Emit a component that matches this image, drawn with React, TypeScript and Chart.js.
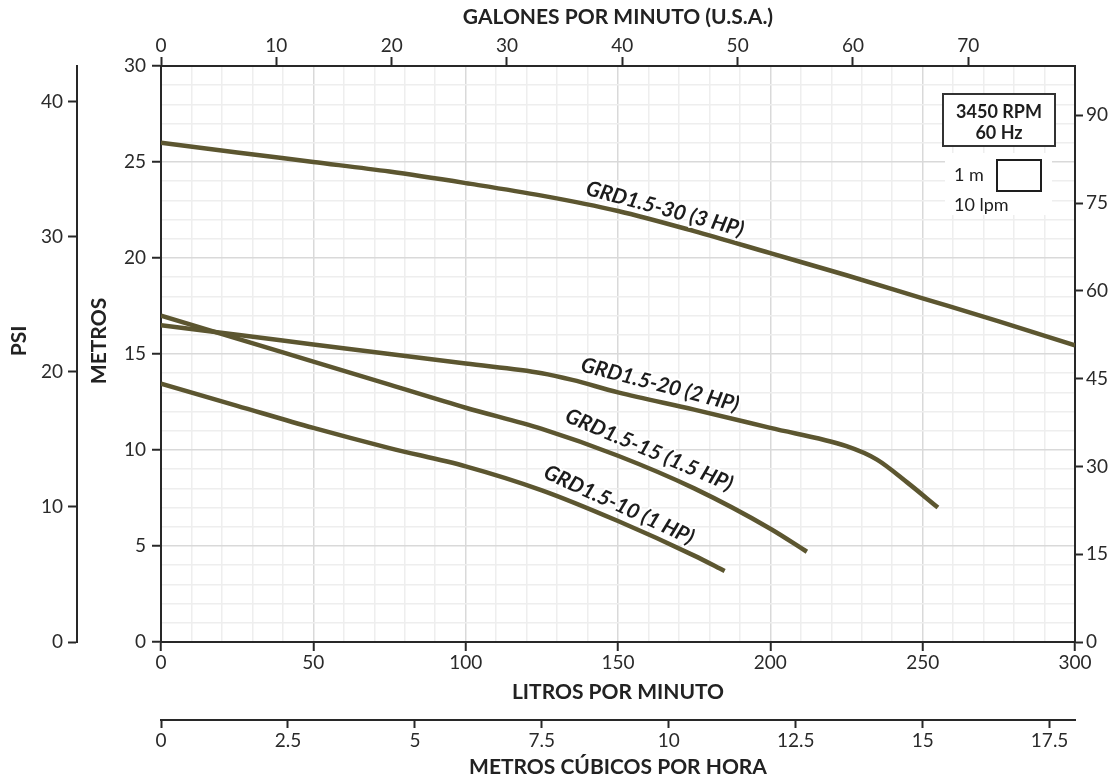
import React, { useEffect, useRef } from "react";
import { Chart, registerables } from "chart.js";

Chart.register(...registerables);

const FONT = "Lato, 'Open Sans', sans-serif";
const CURVE_COLOR = "#5c5630";
const AXIS_COLOR = "#282828";
const TEXT_COLOR = "#2a2a2a";

// Flow in litres per minute, head in metres
const lpm30 = [0, 25, 50, 75, 100, 125, 150, 175, 200, 225, 250, 275, 300];
const m30 = [26.0, 25.5, 25.0, 24.5, 23.9, 23.25, 22.45, 21.4, 20.25, 19.1, 17.9, 16.7, 15.45];

const lpm20 = [0, 25, 50, 75, 100, 125, 135, 150, 175, 200, 225, 235, 245, 255];
const m20 = [16.5, 16.0, 15.5, 15.0, 14.5, 14.0, 13.65, 13.0, 12.1, 11.15, 10.2, 9.5, 8.3, 7.0];

const lpm15 = [0, 25, 50, 75, 100, 125, 150, 175, 200, 212];
const m15 = [17.0, 15.8, 14.6, 13.4, 12.2, 11.1, 9.7, 8.0, 5.9, 4.7];

const lpm10 = [0, 25, 50, 75, 100, 125, 150, 175, 185];
const m10 = [13.45, 12.3, 11.15, 10.1, 9.15, 7.9, 6.3, 4.5, 3.7];

const seriesNames = ["GRD1.5-30 (3 HP)", "GRD1.5-20 (2 HP)", "GRD1.5-15 (1.5 HP)", "GRD1.5-10 (1 HP)"];

// Axis ranges / units
const LPM_MAX = 300;
const M_MAX = 30;
const GPM_MAX = LPM_MAX / 3.78541;
const FT_MAX = M_MAX * 3.28084;
const PSI_MAX = M_MAX * 1.42197;
const M3H_MAX = LPM_MAX * 0.06;

const axisTitles = {
  gpm: "GALONES POR MINUTO (U.S.A.)",
  lpm: "LITROS POR MINUTO",
  m3h: "METROS CÚBICOS POR HORA",
  m: "METROS",
  psi: "PSI",
};
const boxLines = ["3450 RPM", "60 Hz"];
const scaleLines = ["1 m", "10 lpm"];

// label anchors in data units (lpm, m) and angle in degrees
const labelAnchors = [
  { lpm: 165.4, m: 22.55, angle: 15 },
  { lpm: 163.8, m: 13.4, angle: 14.5 },
  { lpm: 160.2, m: 10.0, angle: 23 },
  { lpm: 150.3, m: 7.14, angle: 24.5 },
];

const toPoints = (xs: number[], ys: number[]) => xs.map((x, i) => ({ x, y: ys[i] }));

const annotationPlugin = {
  id: "annotationPlugin",
  beforeDatasetsDraw(chart: any) {
    const { ctx, chartArea } = chart;
    const r = chartArea.right;
    const t = chartArea.top;
    ctx.save();
    // white patch for scale box
    ctx.fillStyle = "#ffffff";
    ctx.fillRect(r - 130, t + 87, 107, 62);
    // RPM box
    ctx.fillRect(r - 132, t + 28, 112, 52);
    ctx.strokeStyle = "#333333";
    ctx.lineWidth = 2;
    ctx.strokeRect(r - 132, t + 28, 112, 52);
    ctx.fillStyle = "#1e1e1e";
    ctx.font = `bold 18px ${FONT}`;
    ctx.textAlign = "center";
    ctx.textBaseline = "middle";
    ctx.fillText(boxLines[0], r - 76, t + 46);
    ctx.fillText(boxLines[1], r - 76, t + 67);
    // scale indicator
    ctx.font = `18px ${FONT}`;
    ctx.textAlign = "left";
    ctx.fillText(scaleLines[0], r - 121, t + 109);
    ctx.fillText(scaleLines[1], r - 121, t + 139);
    ctx.lineWidth = 2;
    ctx.strokeStyle = "#1e1e1e";
    ctx.strokeRect(r - 78, t + 94, 44, 31);
    ctx.restore();
  },
  afterDatasetsDraw(chart: any) {
    const { ctx, scales } = chart;
    ctx.save();
    ctx.font = `italic bold 21px ${FONT}`;
    ctx.textAlign = "center";
    ctx.textBaseline = "middle";
    labelAnchors.forEach((a, i) => {
      const px = scales.x.getPixelForValue(a.lpm);
      const py = scales.y.getPixelForValue(a.m);
      ctx.save();
      ctx.translate(px, py);
      ctx.rotate((a.angle * Math.PI) / 180);
      ctx.lineWidth = 4;
      ctx.strokeStyle = "#ffffff";
      ctx.lineJoin = "round";
      ctx.strokeText(seriesNames[i], 0, 0);
      ctx.fillStyle = "#1c1c1c";
      ctx.fillText(seriesNames[i], 0, 0);
      ctx.restore();
    });
    ctx.restore();
  },
  afterDraw(chart: any) {
    const { ctx, chartArea } = chart;
    ctx.save();
    ctx.fillStyle = "#222222";
    ctx.font = `bold 21px ${FONT}`;
    ctx.textAlign = "center";
    ctx.textBaseline = "middle";
    const yMid = (chartArea.top + chartArea.bottom) / 2 - 13;
    ctx.save();
    ctx.translate(chartArea.left - 62, yMid);
    ctx.rotate(-Math.PI / 2);
    ctx.fillText(axisTitles.m, 0, 0);
    ctx.restore();
    ctx.save();
    ctx.translate(19, yMid);
    ctx.rotate(-Math.PI / 2);
    ctx.fillText(axisTitles.psi, 0, 0);
    ctx.restore();
    ctx.restore();
  },
};

const tickFont = { family: FONT, size: 19 };
const titleFont = { family: FONT, size: 21, weight: "bold" as const };

export default function App() {
  const canvasRef = useRef<HTMLCanvasElement | null>(null);

  useEffect(() => {
    if (!canvasRef.current) return;
    const lineDs = (label: string, xs: number[], ys: number[]) => ({
      label,
      data: toPoints(xs, ys),
      borderColor: CURVE_COLOR,
      backgroundColor: CURVE_COLOR,
      borderWidth: 4.5,
      pointRadius: 0,
      fill: false,
      cubicInterpolationMode: "monotone" as const,
      xAxisID: "x",
      yAxisID: "y",
    });
    const chart = new Chart(canvasRef.current, {
      type: "line",
      data: {
        datasets: [
          lineDs(seriesNames[0], lpm30, m30),
          lineDs(seriesNames[1], lpm20, m20),
          lineDs(seriesNames[2], lpm15, m15),
          lineDs(seriesNames[3], lpm10, m10),
        ],
      },
      options: {
        responsive: false,
        animation: false,
        events: [],
        layout: { padding: 0 },
        plugins: { legend: { display: false }, tooltip: { enabled: false } },
        scales: {
          x: {
            type: "linear",
            position: "bottom",
            weight: 0,
            min: 0,
            max: LPM_MAX,
            ticks: {
              stepSize: 10,
              autoSkip: false,
              maxRotation: 0,
              includeBounds: false,
              padding: 0,
              font: tickFont,
              color: TEXT_COLOR,
              callback: (v: any) => (Number(v) % 50 === 0 ? String(v) : ""),
            },
            grid: {
              color: (c: any) => (c.tick && c.tick.value % 50 === 0 ? "#d9d9d9" : "#eeeeee"),
              lineWidth: 1.5,
              tickLength: 9,
              tickWidth: 2,
              tickColor: (c: any) => (c.tick && c.tick.value % 50 === 0 ? AXIS_COLOR : "rgba(0,0,0,0)"),
            },
            border: { color: AXIS_COLOR, width: 2 },
            title: {
              display: true,
              text: axisTitles.lpm,
              font: titleFont,
              color: "#222222",
              padding: { top: 0, bottom: 15 },
            },
            afterFit: (s: any) => {
              s.height = 78;
            },
          },
          m3h: {
            type: "linear",
            position: "bottom",
            weight: 1,
            min: 0,
            max: M3H_MAX,
            ticks: {
              stepSize: 2.5,
              autoSkip: false,
              maxRotation: 0,
              includeBounds: false,
              padding: 1,
              font: tickFont,
              color: TEXT_COLOR,
            },
            grid: { drawOnChartArea: false, tickLength: 8, tickWidth: 2, tickColor: AXIS_COLOR },
            border: { color: AXIS_COLOR, width: 2 },
            title: {
              display: true,
              text: axisTitles.m3h,
              font: titleFont,
              color: "#222222",
              padding: { top: 0, bottom: 2 },
            },
            afterFit: (s: any) => {
              s.height = 62;
            },
          },
          gpm: {
            type: "linear",
            position: "top",
            min: 0,
            max: GPM_MAX,
            ticks: {
              stepSize: 10,
              autoSkip: false,
              maxRotation: 0,
              includeBounds: false,
              padding: 0,
              font: tickFont,
              color: TEXT_COLOR,
            },
            grid: { drawOnChartArea: false, tickLength: 9, tickWidth: 2, tickColor: AXIS_COLOR },
            border: { color: AXIS_COLOR, width: 2 },
            title: {
              display: true,
              text: axisTitles.gpm,
              font: titleFont,
              color: "#222222",
              padding: { top: 5, bottom: 0 },
            },
            afterFit: (s: any) => {
              s.height = 66;
            },
          },
          y: {
            type: "linear",
            position: "left",
            weight: 0,
            min: 0,
            max: M_MAX,
            ticks: {
              stepSize: 1,
              autoSkip: false,
              includeBounds: false,
              padding: 6,
              font: tickFont,
              color: TEXT_COLOR,
              callback: (v: any) => (Number(v) % 5 === 0 ? String(v) : ""),
            },
            grid: {
              color: (c: any) => (c.tick && c.tick.value % 5 === 0 ? "#d9d9d9" : "#eeeeee"),
              lineWidth: 1.5,
              tickLength: 9,
              tickWidth: 2,
              tickColor: (c: any) => (c.tick && c.tick.value % 5 === 0 ? AXIS_COLOR : "rgba(0,0,0,0)"),
            },
            border: { color: AXIS_COLOR, width: 2 },
            afterFit: (s: any) => {
              s.width = 84;
            },
          },
          psi: {
            type: "linear",
            position: "left",
            weight: 1,
            min: 0,
            max: PSI_MAX,
            ticks: {
              stepSize: 10,
              autoSkip: false,
              includeBounds: false,
              padding: 5,
              font: tickFont,
              color: TEXT_COLOR,
            },
            grid: { drawOnChartArea: false, tickLength: 9, tickWidth: 2, tickColor: AXIS_COLOR },
            border: { color: AXIS_COLOR, width: 2 },
            afterFit: (s: any) => {
              s.width = 77;
            },
          },
          ft: {
            type: "linear",
            position: "right",
            min: 0,
            max: FT_MAX,
            ticks: {
              stepSize: 15,
              autoSkip: false,
              includeBounds: false,
              padding: 3,
              font: tickFont,
              color: TEXT_COLOR,
            },
            grid: { drawOnChartArea: false, tickLength: 8, tickWidth: 2, tickColor: AXIS_COLOR },
            border: { color: AXIS_COLOR, width: 2 },
            afterFit: (s: any) => {
              s.width = 39;
            },
          },
        },
      } as any,
      plugins: [annotationPlugin],
    });
    return () => chart.destroy();
  }, []);

  return (
    <div style={{ position: "absolute", left: 0, top: 0, width: 1114, height: 782, background: "#ffffff" }}>
      <canvas ref={canvasRef} width={1114} height={782} style={{ display: "block" }} />
    </div>
  );
}
